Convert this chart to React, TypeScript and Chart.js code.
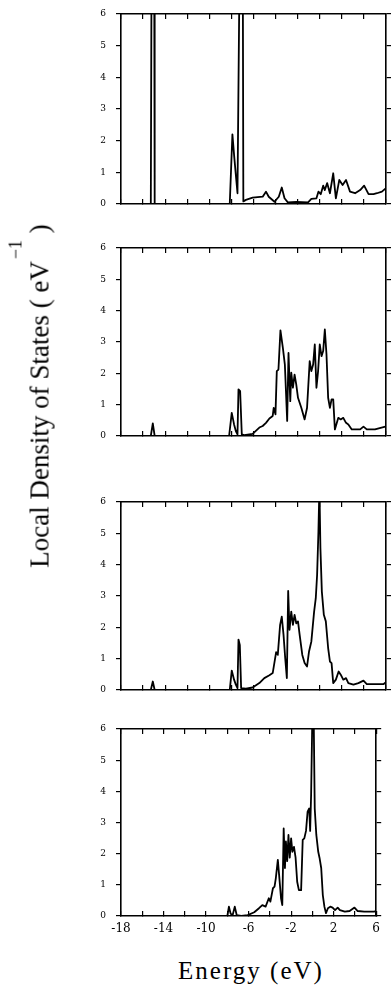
import React, { useEffect, useRef } from "react";
import { Chart, registerables } from "chart.js";

Chart.register(...registerables);

// ---- data (energy in eV, local DOS in eV^-1) ----
const energyMin = -18;
const energyMax = 6;
const dosMin = 0;
const dosMax = 6;
const xTickLabels = ["-18", "-14", "-10", "-6", "-2", "2", "6"];

const panel1: [number, number][] = [
  [-18, 0], [-15.3, 0], [-15.22, 9], [-15.0, 9], [-14.95, 0], [-8.15, 0],
  [-7.91, 2.2], [-7.76, 1.55], [-7.62, 1.0], [-7.45, 0.34], [-7.22, 9], [-6.98, 9],
  [-6.92, 0.08], [-6.69, 0.13], [-6.08, 0.2], [-5.17, 0.23], [-4.87, 0.39], [-4.62, 0.23],
  [-4.1, 0.07], [-3.71, 0.23], [-3.44, 0.52], [-3.19, 0.18], [-2.89, 0.05], [-2.13, 0.07],
  [-1.06, 0.05], [-0.76, 0.16], [-0.3, 0.18], [-0.12, 0.39], [0.09, 0.31], [0.31, 0.58],
  [0.46, 0.44], [0.67, 0.66], [0.92, 0.34], [1.22, 0.97], [1.46, 0.18], [1.77, 0.76],
  [2.07, 0.6], [2.38, 0.76], [2.74, 0.39], [3.2, 0.34], [3.66, 0.44], [4.02, 0.58],
  [4.42, 0.31], [4.87, 0.31], [5.18, 0.34], [5.63, 0.39], [6.0, 0.5],
];

const panel2: [number, number][] = [
  [-18, 0], [-15.3, 0], [-15.12, 0.4], [-14.95, 0], [-8.21, 0], [-7.97, 0.74],
  [-7.76, 0.37], [-7.6, 0.16], [-7.45, 0.05], [-7.36, 1.49], [-7.21, 1.43], [-7.06, 0.05],
  [-6.84, 0.03], [-6.08, 0.07], [-5.47, 0.27], [-5.17, 0.32], [-4.87, 0.42], [-4.56, 0.56],
  [-4.26, 0.64], [-4.17, 0.9], [-4.01, 0.69], [-3.89, 2.07], [-3.74, 2.12], [-3.56, 3.37],
  [-3.34, 2.81], [-3.16, 2.28], [-2.95, 0.48], [-2.83, 2.65], [-2.67, 1.11], [-2.58, 2.02],
  [-2.43, 1.54], [-2.28, 1.96], [-2.13, 1.65], [-1.97, 1.22], [-1.67, 0.9], [-1.37, 0.53],
  [-1.15, 0.9], [-0.91, 2.39], [-0.76, 2.07], [-0.6, 2.28], [-0.45, 2.92], [-0.3, 1.54],
  [-0.15, 2.07], [0.0, 2.92], [0.16, 2.55], [0.31, 2.71], [0.46, 3.4], [0.61, 2.6],
  [0.76, 1.22], [0.92, 0.9], [1.07, 1.17], [1.22, 1.17], [1.37, 0.21], [1.68, 0.58],
  [1.9, 0.53], [2.13, 0.58], [2.38, 0.42], [2.59, 0.37], [2.9, 0.21], [3.66, 0.21],
  [3.96, 0.3], [4.26, 0.21], [5.0, 0.21], [5.94, 0.3], [6.0, 0.3],
];

const panel3: [number, number][] = [
  [-18, 0], [-15.3, 0], [-15.12, 0.27], [-14.95, 0], [-8.15, 0], [-7.97, 0.62],
  [-7.76, 0.33], [-7.6, 0.17], [-7.45, 0.06], [-7.36, 1.61], [-7.24, 1.44], [-7.12, 0.06],
  [-6.69, 0.04], [-6.08, 0.08], [-5.47, 0.22], [-5.02, 0.38], [-4.56, 0.47], [-4.26, 0.54],
  [-3.95, 1.21], [-3.8, 1.12], [-3.59, 2.08], [-3.44, 2.34], [-3.28, 1.76], [-3.13, 1.02],
  [-2.98, 0.38], [-2.86, 3.16], [-2.74, 1.92], [-2.58, 2.5], [-2.43, 2.08], [-2.28, 2.4],
  [-2.13, 2.13], [-1.97, 2.19], [-1.82, 1.76], [-1.58, 1.12], [-1.37, 0.86], [-1.15, 0.75],
  [-0.97, 1.23], [-0.76, 1.55], [-0.51, 2.5], [-0.36, 2.93], [-0.24, 3.67], [-0.12, 5.06],
  [-0.03, 6.5], [0.06, 4.53], [0.19, 3.14], [0.37, 2.4], [0.55, 2.19], [0.76, 1.34],
  [0.92, 0.91], [1.07, 0.86], [1.22, 0.22], [1.46, 0.33], [1.71, 0.59], [1.9, 0.49],
  [2.13, 0.33], [2.38, 0.38], [2.59, 0.22], [3.05, 0.17], [3.5, 0.22], [3.96, 0.3],
  [4.26, 0.19], [4.87, 0.19], [5.79, 0.19], [6.0, 0.25],
];

const panel4: [number, number][] = [
  [-18, 0], [-8.0, 0], [-7.85, 0.3], [-7.7, 0.09], [-7.52, 0], [-7.3, 0.3],
  [-7.12, 0.03], [-6.69, 0], [-6.08, 0.03], [-5.47, 0.12], [-5.02, 0.25], [-4.71, 0.35],
  [-4.4, 0.3], [-4.1, 0.57], [-3.95, 0.46], [-3.71, 0.89], [-3.56, 0.94], [-3.44, 1.21],
  [-3.25, 1.8], [-3.13, 1.32], [-2.95, 0.57], [-2.83, 0.35], [-2.7, 2.81], [-2.58, 1.54],
  [-2.49, 2.39], [-2.37, 1.76], [-2.25, 2.6], [-2.13, 1.87], [-2.0, 2.49], [-1.88, 2.06],
  [-1.73, 2.22], [-1.58, 1.87], [-1.43, 1.1], [-1.27, 0.83], [-1.06, 0.83], [-0.91, 2.44],
  [-0.76, 2.49], [-0.6, 2.73], [-0.45, 3.35], [-0.3, 3.45], [-0.21, 2.73], [-0.12, 3.88],
  [0.0, 6.5], [0.12, 6.5], [0.22, 3.45], [0.37, 2.6], [0.55, 2.06], [0.67, 1.87],
  [0.83, 1.54], [0.98, 0.67], [1.13, 0.3], [1.28, 0.09], [1.46, 0.25], [1.68, 0.3],
  [1.9, 0.27], [2.13, 0.19], [2.38, 0.27], [2.59, 0.19], [3.05, 0.14], [3.5, 0.16],
  [3.96, 0.27], [4.26, 0.16], [4.87, 0.14], [5.79, 0.14], [6.0, 0.16],
];

const yTitleMain = "Local Density of States ( eV";
const yTitleSup = "\u22121";
const yTitleEnd = " )";
const xTitle = "Energy (eV)";

const WIDTH = 391;
const SERIF = '"Liberation Serif", "Times New Roman", serif';
const TICK_SERIF = '"DejaVu Serif", serif';

type PanelProps = {
  data: [number, number][];
  top: number;
  bottom: number;
  showLabels: boolean;
};

function Panel({ data, top, bottom, showLabels }: PanelProps) {
  const ref = useRef<HTMLCanvasElement | null>(null);
  const padTop = 16;
  const axisH = showLabels ? 26 : 16;
  const h = bottom - top + padTop + axisH;

  useEffect(() => {
    if (!ref.current) return;
    const gridOpts = {
      drawOnChartArea: false,
      drawTicks: true,
      color: "#000",
      lineWidth: 1.2,
    };
    const borderOpts = { display: true, color: "#000", width: 1.6 };
    const chart = new Chart(ref.current, {
      type: "line",
      data: {
        datasets: [
          {
            data: data.map(([x, y]) => ({ x, y })),
            borderColor: "#000",
            borderWidth: 1.8,
            borderJoinStyle: "round",
            pointRadius: 0,
            tension: 0,
            fill: false,
            xAxisID: "x",
            yAxisID: "y",
          },
        ],
      },
      options: {
        responsive: false,
        maintainAspectRatio: false,
        animation: false,
        events: [],
        layout: { padding: { top: padTop, left: 0, right: 0, bottom: 0 } },
        plugins: { legend: { display: false }, tooltip: { enabled: false } },
        scales: {
          x: {
            type: "linear",
            position: "bottom",
            min: energyMin,
            max: energyMax,
            afterFit: (s: any) => {
              s.height = axisH;
            },
            ticks: {
              stepSize: 2,
              autoSkip: false,
              maxRotation: 0,
              minRotation: 0,
              display: showLabels,
              padding: 11,
              color: "#000",
              font: { family: TICK_SERIF, size: 12 },
              callback: (v: any) => {
                const s = String(v);
                return xTickLabels.includes(s) ? s : "";
              },
            },
            grid: { ...gridOpts, tickLength: -5 },
            border: borderOpts,
          },
          x2: {
            type: "linear",
            position: "top",
            min: energyMin,
            max: energyMax,
            afterFit: (s: any) => {
              s.height = 0;
            },
            ticks: { stepSize: 2, autoSkip: false, display: false },
            grid: { ...gridOpts, tickLength: -5 },
            border: borderOpts,
          },
          y: {
            type: "linear",
            position: "left",
            min: dosMin,
            max: dosMax,
            afterFit: (s: any) => {
              s.width = 121;
            },
            ticks: {
              stepSize: 1,
              padding: 10,
              color: "#000",
              font: { family: TICK_SERIF, size: 9 },
            },
            grid: { ...gridOpts, tickLength: 5 },
            border: borderOpts,
          },
          y2: {
            type: "linear",
            position: "right",
            min: dosMin,
            max: dosMax,
            afterFit: (s: any) => {
              s.width = 5;
            },
            ticks: { stepSize: 1, display: false },
            grid: { ...gridOpts, tickLength: 5 },
            border: borderOpts,
          },
        },
      } as any,
    });
    return () => chart.destroy();
  }, [data, axisH, showLabels]);

  return (
    <canvas
      ref={ref}
      width={WIDTH}
      height={h}
      style={{
        position: "absolute",
        left: 0,
        top: top - padTop,
        width: WIDTH,
        height: h,
      }}
    />
  );
}

export default function App() {
  const panels = [
    { data: panel1, top: 14, bottom: 204 },
    { data: panel2, top: 248, bottom: 436 },
    { data: panel3, top: 502, bottom: 690 },
    { data: panel4, top: 729, bottom: 916 },
  ];
  return (
    <div
      style={{
        position: "absolute",
        left: 0,
        top: 0,
        width: WIDTH,
        height: 992,
        background: "#fff",
        overflow: "hidden",
      }}
    >
      {panels.map((p, i) => (
        <Panel
          key={i}
          data={p.data}
          top={p.top}
          bottom={p.bottom}
          showLabels={i === panels.length - 1}
        />
      ))}
      <div
        style={{
          position: "absolute",
          left: 41,
          top: 396,
          transform: "translate(-50%, -50%) rotate(-90deg)",
          fontFamily: SERIF,
          fontSize: 27,
          lineHeight: "30px",
          whiteSpace: "nowrap",
          color: "#000",
        }}
      >
        {yTitleMain}
        <span
          style={{
            position: "relative",
            top: -27,
            fontSize: 18,
            marginLeft: 2,
          }}
        >
          {yTitleSup}
        </span>
        {yTitleEnd}
      </div>
      <div
        style={{
          position: "absolute",
          left: 251,
          top: 958,
          transform: "translateX(-50%)",
          fontFamily: SERIF,
          fontSize: 25,
          fontWeight: 400,
          letterSpacing: 2,
          lineHeight: "26px",
          whiteSpace: "nowrap",
          color: "#000",
        }}
      >
        {xTitle}
      </div>
    </div>
  );
}
